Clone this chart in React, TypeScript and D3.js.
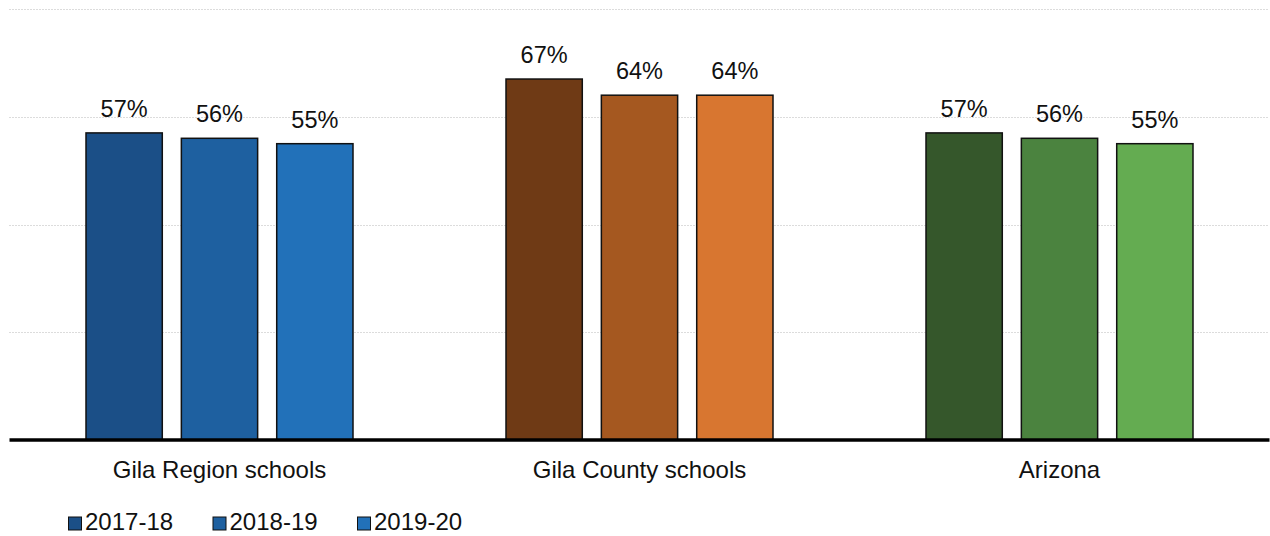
import React from "react";
import * as d3 from "d3";

const categories = ["Gila Region schools", "Gila County schools", "Arizona"];
const seriesNames = ["2017-18", "2018-19", "2019-20"];
const values2017 = [57, 67, 57];
const values2018 = [56, 64, 56];
const values2019 = [55, 64, 55];
const gridTicks = [20, 40, 60, 80];
const palette = [
  ["#1b4f87", "#1e60a0", "#2271b9"],
  ["#6f3a15", "#a55820", "#d87630"],
  ["#35572b", "#4b833f", "#64ac51"],
];

export default function App() {
  const W = 1270, H = 536;
  const left = 9.5, right = 1269.5, baseY = 440, topY = 9;
  const x0 = d3.scaleBand().domain(categories).range([left, right]).paddingInner(0).paddingOuter(0);
  const x1 = d3.scaleBand().domain(seriesNames).range([76.5, 420 - 76.5]).paddingInner(0.2);
  const y = d3.scaleLinear().domain([0, 80]).range([baseY, topY]);
  const series = [values2017, values2018, values2019];
  const font = "Liberation Sans, Arial, sans-serif";
  return (
    <svg width={W} height={H} style={{ position: "absolute", left: 0, top: 0 }} fontFamily={font}>
      {gridTicks.map((t) => (
        <line key={t} x1={left} x2={right} y1={Math.round(y(t)) + 0.5} y2={Math.round(y(t)) + 0.5}
          stroke="#b8b8b8" strokeDasharray="1,2" strokeWidth={1} />
      ))}
      {categories.map((c, ci) =>
        seriesNames.map((s, si) => {
          const v = series[si][ci];
          const bx = (x0(c) as number) + (x1(s) as number);
          const bw = x1.bandwidth();
          return (
            <g key={c + s}>
              <rect x={bx} y={y(v)} width={bw} height={baseY - y(v)} fill={palette[ci][si]} stroke="#111" strokeWidth={1.5} />
              <text x={bx + bw / 2} y={y(v) - 16} textAnchor="middle" fontSize={23.5} fill="#111">{v}%</text>
            </g>
          );
        })
      )}
      <line x1={left} x2={right} y1={baseY} y2={baseY} stroke="#000" strokeWidth={3.5} />
      {categories.map((c) => (
        <text key={c} x={(x0(c) as number) + x0.bandwidth() / 2} y={478} textAnchor="middle" fontSize={24} fill="#111">{c}</text>
      ))}
      {seriesNames.map((s, si) => {
        const lx = 68 + si * 144.5;
        return (
          <g key={s}>
            <rect x={lx + 0.5} y={517} width={13} height={13} fill={palette[0][si]} stroke="#111" strokeWidth={1} />
            <text x={lx + 17} y={530} fontSize={24} fill="#111">{s}</text>
          </g>
        );
      })}
    </svg>
  );
}
